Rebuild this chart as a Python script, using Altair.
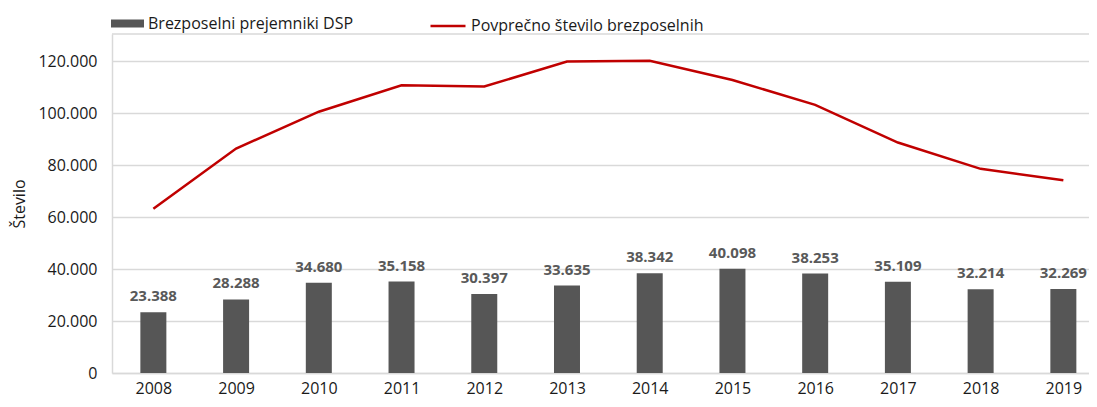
import altair as alt
import pandas as pd

years = [2008, 2009, 2010, 2011, 2012, 2013, 2014, 2015, 2016, 2017, 2018, 2019]
dsp = [23388, 28288, 34680, 35158, 30397, 33635, 38342, 40098, 38253, 35109, 32214, 32269]
avg = [63216, 86354, 100504, 110692, 110183, 119827, 120109, 112726, 103152, 88648, 78534, 74178]
y_ticks = [0, 20000, 40000, 60000, 80000, 100000, 120000]
bar_name = "Brezposelni prejemniki DSP"
line_name = "Povprečno število brezposelnih"
y_title = "Število"

df = pd.DataFrame({"leto": years, "dsp": dsp, "avg": avg,
                   "s_bar": bar_name, "s_line": line_name})

FONT = "Open Sans"
W, H = 977, 339
GRID = "#d9d9d9"
TXT = "#1a1a1a"
fmt = "replace(format(datum.value, ',d'), ',', '.')"

xenc = alt.X("leto:Q",
             scale=alt.Scale(domain=[2007.5, 2019.31], nice=False, zero=False, padding=0),
             axis=alt.Axis(values=years, format="d", title=None, grid=False, ticks=False,
                           domainColor=GRID, domainWidth=1.5, labelFontSize=16,
                           labelColor=TXT, labelPadding=7, labelFont=FONT,
                           labelFlush=False, labelOverlap=False, labelBound=False))

yaxis = alt.Axis(values=y_ticks, labelExpr=fmt, title=y_title, grid=True, gridColor=GRID,
                 gridWidth=1.5, ticks=False, domainColor=GRID, domainWidth=1.5,
                 labelFontSize=16, labelColor=TXT, labelPadding=15, labelFont=FONT,
                 titleFont=FONT, titleFontSize=16, titleFontWeight="normal",
                 titleColor=TXT, titlePadding=10)
yscale = alt.Scale(domain=[0, 130400], nice=False, padding=0)

base = alt.Chart(df)

bars = base.mark_bar(size=26).encode(
    x=xenc,
    y=alt.Y("dsp:Q", scale=yscale, axis=yaxis),
    color=alt.Color("s_bar:N", scale=alt.Scale(range=["#565656"]),
                    legend=alt.Legend(title=None, orient="none", legendX=-1, legendY=-27,
                                      symbolType="M-1,-0.24L1,-0.24L1,0.24L-1,0.24Z",
                                      symbolSize=1089, symbolStrokeWidth=0,
                                      labelFont=FONT, labelFontSize=16, labelLimit=500,
                                      labelColor=TXT, labelOffset=4)),
)

labels = base.transform_calculate(
    lab="replace(format(datum.dsp, ',d'), ',', '.')"
).mark_text(baseline="bottom", dy=-8, fontSize=15, fontWeight="bold",
            color="#595959", font=FONT).encode(
    x=xenc,
    y=alt.Y("dsp:Q", scale=yscale, axis=yaxis),
    text="lab:N",
)

line = base.mark_line(strokeWidth=2.5).encode(
    x=xenc,
    y=alt.Y("avg:Q", scale=yscale, axis=yaxis),
    stroke=alt.Stroke("s_line:N", scale=alt.Scale(range=["#c00000"]),
                      legend=alt.Legend(title=None, orient="none", legendX=317, legendY=-27,
                                        symbolType="stroke", symbolSize=1225,
                                        symbolStrokeWidth=2.5, labelLimit=500,
                                        labelFont=FONT, labelFontSize=16,
                                        labelColor=TXT, labelOffset=4)),
)

border = alt.Chart(alt.Data(values=[{"k": 1}])).mark_rule(
    color=GRID, strokeWidth=1.5).encode(
    x=alt.value(0), x2=alt.value(W), y=alt.value(0))

chart = alt.layer(bars, labels, line, border).properties(
    width=W, height=H,
    autosize=alt.AutoSizeParams(type="none"),
    padding={"left": 104, "top": 26, "right": 0, "bottom": 25},
).configure_view(stroke=None).resolve_scale(color="independent")

chart.save("out.html", embed_options={"renderer": "svg", "actions": False})
